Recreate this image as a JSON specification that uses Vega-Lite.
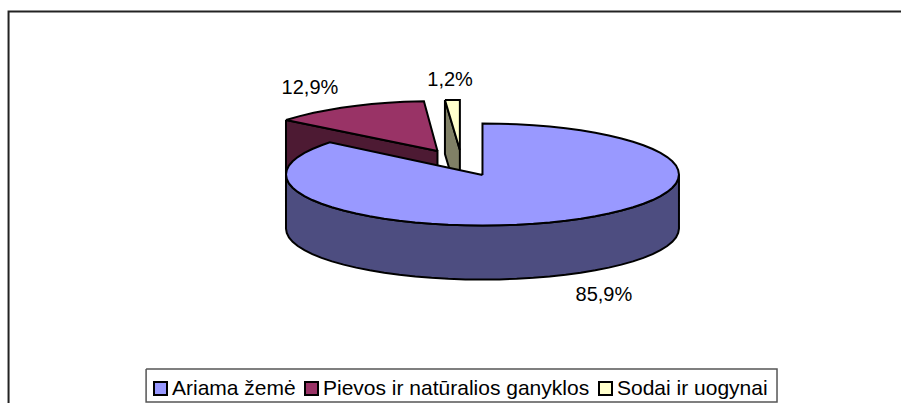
{"$schema":"https://vega.github.io/schema/vega-lite/v6.json","width":901,"height":403,"padding":0,"autosize":{"type":"none"},"background":"white","view":{"stroke":null},
"config":{"font":"Liberation Sans"},
"datasets":{
"shapes":[
{"part":"Sodai šonas","i":0,"x":-19.1,"y":146.1},{"part":"Sodai šonas","i":1,"x":-11.5,"y":48},{"part":"Sodai šonas","i":2,"x":-11.5,"y":-57.8},{"part":"Sodai šonas","i":3,"x":-19.1,"y":40.2},{"part":"Sodai šonas","i":4,"x":-19.1,"y":146.1},
{"part":"Sodai ir uogynai","i":0,"x":-19.1,"y":146.1},{"part":"Sodai ir uogynai","i":1,"x":-11.5,"y":146.1},{"part":"Sodai ir uogynai","i":2,"x":-11.5,"y":48},{"part":"Sodai ir uogynai","i":3,"x":-19.1,"y":146.1},
{"part":"Pievos šonas","i":0,"x":-100,"y":107},{"part":"Pievos šonas","i":1,"x":-22.9,"y":46},{"part":"Pievos šonas","i":2,"x":-22.9,"y":-60},{"part":"Pievos šonas","i":3,"x":-100,"y":1},{"part":"Pievos šonas","i":4,"x":-100,"y":107},
{"part":"Pievos ir natūralios ganyklos","i":0,"x":-22.9,"y":46},{"part":"Pievos ir natūralios ganyklos","i":1,"x":-100,"y":107},{"part":"Pievos ir natūralios ganyklos","i":2,"x":-93,"y":114.5},{"part":"Pievos ir natūralios ganyklos","i":3,"x":-85.9,"y":121},{"part":"Pievos ir natūralios ganyklos","i":4,"x":-79,"y":126},{"part":"Pievos ir natūralios ganyklos","i":5,"x":-71.9,"y":130.9},{"part":"Pievos ir natūralios ganyklos","i":6,"x":-64,"y":134.8},{"part":"Pievos ir natūralios ganyklos","i":7,"x":-56.4,"y":138.1},{"part":"Pievos ir natūralios ganyklos","i":8,"x":-48,"y":140.6},{"part":"Pievos ir natūralios ganyklos","i":9,"x":-39.9,"y":142.5},{"part":"Pievos ir natūralios ganyklos","i":10,"x":-29.8,"y":143.8},{"part":"Pievos ir natūralios ganyklos","i":11,"x":-22.9,"y":46},
{"part":"Ariama šonas","i":0,"x":100,"y":0},{"part":"Ariama šonas","i":1,"x":99.6,"y":-8.7},{"part":"Ariama šonas","i":2,"x":98.5,"y":-17.4},{"part":"Ariama šonas","i":3,"x":96.6,"y":-25.9},{"part":"Ariama šonas","i":4,"x":94,"y":-34.2},{"part":"Ariama šonas","i":5,"x":90.6,"y":-42.3},{"part":"Ariama šonas","i":6,"x":86.6,"y":-50},{"part":"Ariama šonas","i":7,"x":81.9,"y":-57.4},{"part":"Ariama šonas","i":8,"x":76.6,"y":-64.3},{"part":"Ariama šonas","i":9,"x":70.7,"y":-70.7},{"part":"Ariama šonas","i":10,"x":64.3,"y":-76.6},{"part":"Ariama šonas","i":11,"x":57.4,"y":-81.9},{"part":"Ariama šonas","i":12,"x":50,"y":-86.6},{"part":"Ariama šonas","i":13,"x":42.3,"y":-90.6},{"part":"Ariama šonas","i":14,"x":34.2,"y":-94},{"part":"Ariama šonas","i":15,"x":25.9,"y":-96.6},{"part":"Ariama šonas","i":16,"x":17.4,"y":-98.5},{"part":"Ariama šonas","i":17,"x":8.7,"y":-99.6},{"part":"Ariama šonas","i":18,"x":0,"y":-100},{"part":"Ariama šonas","i":19,"x":-8.7,"y":-99.6},{"part":"Ariama šonas","i":20,"x":-17.4,"y":-98.5},{"part":"Ariama šonas","i":21,"x":-25.9,"y":-96.6},{"part":"Ariama šonas","i":22,"x":-34.2,"y":-94},{"part":"Ariama šonas","i":23,"x":-42.3,"y":-90.6},{"part":"Ariama šonas","i":24,"x":-50,"y":-86.6},{"part":"Ariama šonas","i":25,"x":-57.4,"y":-81.9},{"part":"Ariama šonas","i":26,"x":-64.3,"y":-76.6},{"part":"Ariama šonas","i":27,"x":-70.7,"y":-70.7},{"part":"Ariama šonas","i":28,"x":-76.6,"y":-64.3},{"part":"Ariama šonas","i":29,"x":-81.9,"y":-57.4},{"part":"Ariama šonas","i":30,"x":-86.6,"y":-50},{"part":"Ariama šonas","i":31,"x":-90.6,"y":-42.3},{"part":"Ariama šonas","i":32,"x":-94,"y":-34.2},{"part":"Ariama šonas","i":33,"x":-96.6,"y":-25.9},{"part":"Ariama šonas","i":34,"x":-98.5,"y":-17.4},{"part":"Ariama šonas","i":35,"x":-99.6,"y":-8.7},{"part":"Ariama šonas","i":36,"x":-100,"y":0},
{"part":"Ariama šonas","i":37,"x":-100,"y":-106},{"part":"Ariama šonas","i":38,"x":-99.6,"y":-114.7},{"part":"Ariama šonas","i":39,"x":-98.5,"y":-123.4},{"part":"Ariama šonas","i":40,"x":-96.6,"y":-131.9},{"part":"Ariama šonas","i":41,"x":-94,"y":-140.2},{"part":"Ariama šonas","i":42,"x":-90.6,"y":-148.3},{"part":"Ariama šonas","i":43,"x":-86.6,"y":-156},{"part":"Ariama šonas","i":44,"x":-81.9,"y":-163.4},{"part":"Ariama šonas","i":45,"x":-76.6,"y":-170.3},{"part":"Ariama šonas","i":46,"x":-70.7,"y":-176.7},{"part":"Ariama šonas","i":47,"x":-64.3,"y":-182.6},{"part":"Ariama šonas","i":48,"x":-57.4,"y":-187.9},{"part":"Ariama šonas","i":49,"x":-50,"y":-192.6},{"part":"Ariama šonas","i":50,"x":-42.3,"y":-196.6},{"part":"Ariama šonas","i":51,"x":-34.2,"y":-200},{"part":"Ariama šonas","i":52,"x":-25.9,"y":-202.6},{"part":"Ariama šonas","i":53,"x":-17.4,"y":-204.5},{"part":"Ariama šonas","i":54,"x":-8.7,"y":-205.6},{"part":"Ariama šonas","i":55,"x":0,"y":-206},{"part":"Ariama šonas","i":56,"x":8.7,"y":-205.6},{"part":"Ariama šonas","i":57,"x":17.4,"y":-204.5},{"part":"Ariama šonas","i":58,"x":25.9,"y":-202.6},{"part":"Ariama šonas","i":59,"x":34.2,"y":-200},{"part":"Ariama šonas","i":60,"x":42.3,"y":-196.6},{"part":"Ariama šonas","i":61,"x":50,"y":-192.6},{"part":"Ariama šonas","i":62,"x":57.4,"y":-187.9},{"part":"Ariama šonas","i":63,"x":64.3,"y":-182.6},{"part":"Ariama šonas","i":64,"x":70.7,"y":-176.7},{"part":"Ariama šonas","i":65,"x":76.6,"y":-170.3},{"part":"Ariama šonas","i":66,"x":81.9,"y":-163.4},{"part":"Ariama šonas","i":67,"x":86.6,"y":-156},{"part":"Ariama šonas","i":68,"x":90.6,"y":-148.3},{"part":"Ariama šonas","i":69,"x":94,"y":-140.2},{"part":"Ariama šonas","i":70,"x":96.6,"y":-131.9},{"part":"Ariama šonas","i":71,"x":98.5,"y":-123.4},{"part":"Ariama šonas","i":72,"x":99.6,"y":-114.7},{"part":"Ariama šonas","i":73,"x":100,"y":-106},{"part":"Ariama šonas","i":74,"x":100,"y":0},
{"part":"Ariama žemė","i":0,"x":0,"y":-1},{"part":"Ariama žemė","i":1,"x":0,"y":100},{"part":"Ariama žemė","i":2,"x":8.7,"y":99.6},{"part":"Ariama žemė","i":3,"x":17.4,"y":98.5},{"part":"Ariama žemė","i":4,"x":25.9,"y":96.6},{"part":"Ariama žemė","i":5,"x":34.2,"y":94},{"part":"Ariama žemė","i":6,"x":42.3,"y":90.6},{"part":"Ariama žemė","i":7,"x":50,"y":86.6},{"part":"Ariama žemė","i":8,"x":57.4,"y":81.9},{"part":"Ariama žemė","i":9,"x":64.3,"y":76.6},{"part":"Ariama žemė","i":10,"x":70.7,"y":70.7},{"part":"Ariama žemė","i":11,"x":76.6,"y":64.3},{"part":"Ariama žemė","i":12,"x":81.9,"y":57.4},{"part":"Ariama žemė","i":13,"x":86.6,"y":50},{"part":"Ariama žemė","i":14,"x":90.6,"y":42.3},{"part":"Ariama žemė","i":15,"x":94,"y":34.2},{"part":"Ariama žemė","i":16,"x":96.6,"y":25.9},{"part":"Ariama žemė","i":17,"x":98.5,"y":17.4},{"part":"Ariama žemė","i":18,"x":99.6,"y":8.7},{"part":"Ariama žemė","i":19,"x":100,"y":0},{"part":"Ariama žemė","i":20,"x":99.6,"y":-8.7},{"part":"Ariama žemė","i":21,"x":98.5,"y":-17.4},{"part":"Ariama žemė","i":22,"x":96.6,"y":-25.9},{"part":"Ariama žemė","i":23,"x":94,"y":-34.2},{"part":"Ariama žemė","i":24,"x":90.6,"y":-42.3},{"part":"Ariama žemė","i":25,"x":86.6,"y":-50},{"part":"Ariama žemė","i":26,"x":81.9,"y":-57.4},{"part":"Ariama žemė","i":27,"x":76.6,"y":-64.3},{"part":"Ariama žemė","i":28,"x":70.7,"y":-70.7},{"part":"Ariama žemė","i":29,"x":64.3,"y":-76.6},{"part":"Ariama žemė","i":30,"x":57.4,"y":-81.9},{"part":"Ariama žemė","i":31,"x":50,"y":-86.6},{"part":"Ariama žemė","i":32,"x":42.3,"y":-90.6},{"part":"Ariama žemė","i":33,"x":34.2,"y":-94},{"part":"Ariama žemė","i":34,"x":25.9,"y":-96.6},{"part":"Ariama žemė","i":35,"x":17.4,"y":-98.5},{"part":"Ariama žemė","i":36,"x":8.7,"y":-99.6},{"part":"Ariama žemė","i":37,"x":0,"y":-100},{"part":"Ariama žemė","i":38,"x":-8.7,"y":-99.6},{"part":"Ariama žemė","i":39,"x":-17.4,"y":-98.5},{"part":"Ariama žemė","i":40,"x":-25.9,"y":-96.6},{"part":"Ariama žemė","i":41,"x":-34.2,"y":-94},{"part":"Ariama žemė","i":42,"x":-42.3,"y":-90.6},{"part":"Ariama žemė","i":43,"x":-50,"y":-86.6},{"part":"Ariama žemė","i":44,"x":-57.4,"y":-81.9},{"part":"Ariama žemė","i":45,"x":-64.3,"y":-76.6},{"part":"Ariama žemė","i":46,"x":-70.7,"y":-70.7},{"part":"Ariama žemė","i":47,"x":-76.6,"y":-64.3},{"part":"Ariama žemė","i":48,"x":-81.9,"y":-57.4},{"part":"Ariama žemė","i":49,"x":-86.6,"y":-50},{"part":"Ariama žemė","i":50,"x":-90.6,"y":-42.3},{"part":"Ariama žemė","i":51,"x":-94,"y":-34.2},{"part":"Ariama žemė","i":52,"x":-96.6,"y":-25.9},{"part":"Ariama žemė","i":53,"x":-98.5,"y":-17.4},{"part":"Ariama žemė","i":54,"x":-99.6,"y":-8.7},{"part":"Ariama žemė","i":55,"x":-100,"y":0},{"part":"Ariama žemė","i":56,"x":-99.6,"y":8.7},{"part":"Ariama žemė","i":57,"x":-98.5,"y":17.4},{"part":"Ariama žemė","i":58,"x":-96.6,"y":25.9},{"part":"Ariama žemė","i":59,"x":-94,"y":34.2},{"part":"Ariama žemė","i":60,"x":-90.6,"y":42.3},{"part":"Ariama žemė","i":61,"x":-86.6,"y":50},{"part":"Ariama žemė","i":62,"x":-81.9,"y":57.4},{"part":"Ariama žemė","i":63,"x":-77.7,"y":63},{"part":"Ariama žemė","i":64,"x":0,"y":-1}
],
"frame":[{"s":"chart","i":0,"x":-241.2,"y":-448},{"s":"chart","i":1,"x":-241.2,"y":319.6},{"s":"chart","i":2,"x":213,"y":319.6}],
"box":[{"i":0,"x":-171.2,"y":-381.4},{"i":1,"x":149.9,"y":-381.4},{"i":2,"x":149.9,"y":-446.1},{"i":3,"x":-171.2,"y":-446.1},{"i":4,"x":-171.2,"y":-381.4}],
"labels":[{"label":"12,9%","x":-87.8,"y":170},{"label":"1,2%","x":-16.5,"y":185.3},{"label":"85,9%","x":61.8,"y":-236.3}]
},
"encoding":{
"x":{"field":"x","type":"quantitative","axis":null,"scale":{"domain":[-245.55,213],"nice":false,"zero":false}},
"y":{"field":"y","type":"quantitative","axis":null,"scale":{"domain":[-448,342.2],"nice":false,"zero":false}}
},
"layer":[
{"data":{"name":"frame"},"mark":{"type":"line","stroke":"#222222","strokeWidth":2,"clip":true},"encoding":{"order":{"field":"i","type":"quantitative"}}},
{"data":{"name":"box"},"mark":{"type":"line","stroke":"#555555","strokeWidth":1.5},"encoding":{"order":{"field":"i","type":"quantitative"}}},
{"data":{"name":"shapes"},"mark":{"type":"line","stroke":"black","strokeWidth":2,"strokeJoin":"miter"},
"encoding":{"order":{"field":"i","type":"quantitative"},
"detail":{"field":"part"},
"fill":{"field":"part","type":"nominal","sort":null,
"scale":{"domain":["Ariama žemė","Pievos ir natūralios ganyklos","Sodai ir uogynai","Ariama šonas","Pievos šonas","Sodai šonas"],"range":["#9999ff","#993366","#ffffcc","#4d4d80","#4d1a33","#808066"]},
"legend":{"values":["Ariama žemė","Pievos ir natūralios ganyklos","Sodai ir uogynai"],"title":null,"orient":"none","legendX":150,"legendY":378,"direction":"horizontal","columns":3,"symbolType":"square","symbolSize":169,"symbolStrokeColor":"black","symbolStrokeWidth":2,"labelFont":"Liberation Sans","labelFontSize":21,"labelColor":"black","labelLimit":500,"labelOffset":1,"columnPadding":5,"padding":0,"symbolOpacity":1}}}},
{"data":{"name":"labels"},"mark":{"type":"text","font":"Liberation Sans","fontSize":20,"color":"black","align":"center","baseline":"middle"},"encoding":{"text":{"field":"label"}}}
]}
